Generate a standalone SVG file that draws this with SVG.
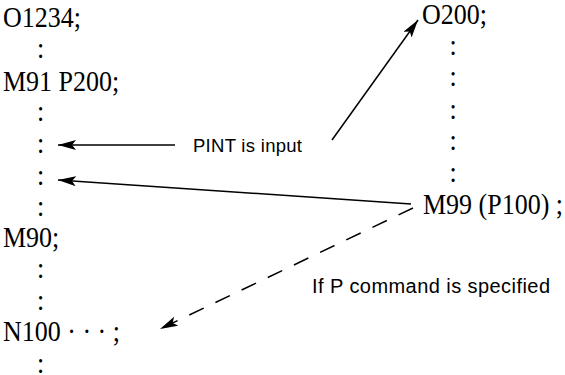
<svg xmlns="http://www.w3.org/2000/svg" width="565" height="375" viewBox="0 0 565 375">
<style>
.m{font-family:"Liberation Serif","Times New Roman",serif;font-size:26px;fill:#000}
.s{font-family:"Liberation Sans",Arial,sans-serif;fill:#000}
.ln{stroke:#000;stroke-width:1.5;fill:none}
.dash{stroke-dasharray:16 13}
</style>
<defs>
<marker id="ah" markerUnits="userSpaceOnUse" markerWidth="20" markerHeight="12" refX="18" refY="5" orient="auto">
<path d="M0,0 L18,5 L0,10 L4,5 z" fill="#000"/>
</marker>
</defs>
<rect width="565" height="375" fill="#fff"/>
<g id="main-program">
<text class="m" transform="translate(3,27) scale(1,1.15)">O1234;</text>
<text class="m" transform="translate(37,58) scale(1,1.15)">:</text>
<text class="m" transform="translate(3,91) scale(1,1.15)">M91 P200;</text>
<text class="m" transform="translate(37,121) scale(1,1.15)">:</text>
<text class="m" transform="translate(37,153) scale(1,1.15)">:</text>
<text class="m" transform="translate(37,185) scale(1,1.15)">:</text>
<text class="m" transform="translate(37,216) scale(1,1.15)">:</text>
<text class="m" transform="translate(3,247) scale(1,1.15)">M90;</text>
<text class="m" transform="translate(37,278) scale(1,1.15)">:</text>
<text class="m" transform="translate(37,310) scale(1,1.15)">:</text>
<text class="m" transform="translate(3,341) scale(1,1.15)">N100 · · · ;</text>
<text class="m" transform="translate(37,373) scale(1,1.15)">:</text>
</g>
<g id="sub-program">
<text class="m" transform="translate(422,24) scale(1,1.15)">O200;</text>
<text class="m" transform="translate(449.5,55) scale(1,1.15)">:</text>
<text class="m" transform="translate(449.5,86) scale(1,1.15)">:</text>
<text class="m" transform="translate(449.5,119) scale(1,1.15)">:</text>
<text class="m" transform="translate(449.5,150) scale(1,1.15)">:</text>
<text class="m" transform="translate(449.5,182) scale(1,1.15)">:</text>
<text class="m" transform="translate(423,214) scale(1,1.15)">M99 (P100) ;</text>
</g>
<g id="label-pint">
<text class="s" x="193" y="152" font-size="18.5" textLength="109">PINT is input</text>
</g>
<g id="label-p">
<text class="s" x="312" y="293" font-size="20" textLength="238">If P command is specified</text>
</g>
<g id="connectors">
<line class="ln" x1="175" y1="145" x2="58" y2="145" marker-end="url(#ah)"/>
<line class="ln" x1="332" y1="140" x2="418" y2="20" marker-end="url(#ah)"/>
<line class="ln" x1="411" y1="204" x2="58" y2="180" marker-end="url(#ah)"/>
<line class="ln dash" x1="413" y1="208" x2="160" y2="329" marker-end="url(#ah)"/>
</g>
</svg>
